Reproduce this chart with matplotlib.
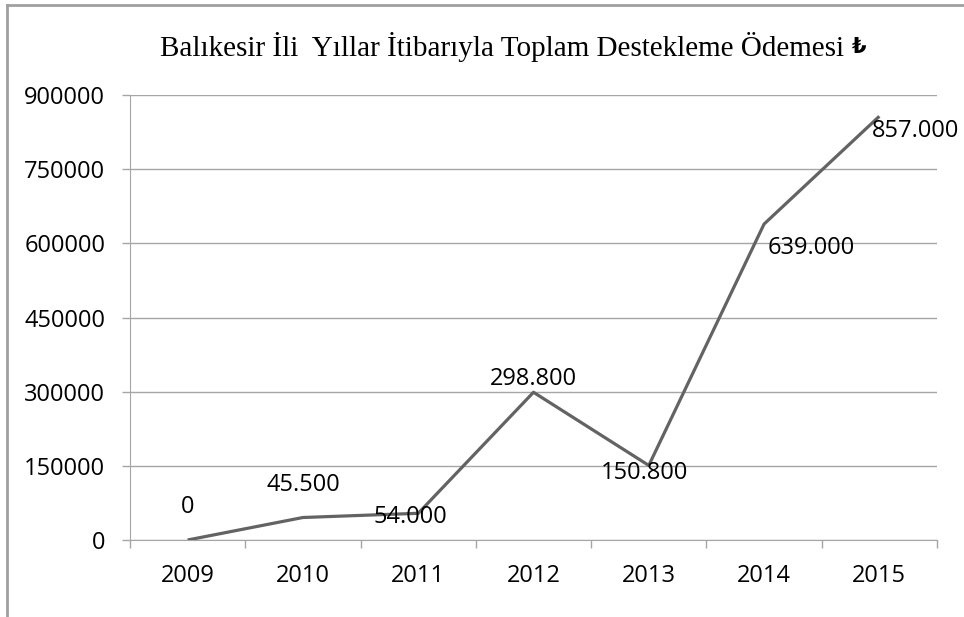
import matplotlib
matplotlib.use('Agg')
import matplotlib.pyplot as plt
from matplotlib.lines import Line2D

years = ['2009', '2010', '2011', '2012', '2013', '2014', '2015']
payments = [0, 45500, 54000, 298800, 150800, 639000, 857000]
value_labels = ['0', '45.500', '54.000', '298.800', '150.800', '639.000', '857.000']
yticks = [0, 150000, 300000, 450000, 600000, 750000, 900000]
title = 'Balıkesir İli  Yıllar İtibarıyla Toplam Destekleme Ödemesi'
currency = '₺'

# label offsets in pixels (dx, dy) and horizontal alignment
label_pos = [(0, 33, 'center'), (0, 33, 'center'), (-8, -4, 'center'),
             (0, 13, 'center'), (-4, -8, 'center'), (4, -24, 'left'),
             (-7, -15, 'left')]

plt.rcParams['font.family'] = ['Open Sans', 'DejaVu Sans']
grid_c = '#a6a6a6'
line_c = '#636363'
fs = 17

W, H = 964, 617
fig = plt.figure(figsize=(W / 100, H / 100), dpi=100)
ax = fig.add_axes([130 / W, 1 - 540 / H, 807 / W, 445 / H])

x = list(range(len(years)))
ax.plot(x, payments, color=line_c, linewidth=2.3, solid_capstyle='butt', zorder=3)

px = 72 / 100
for i, (lab, (dx, dy, ha)) in enumerate(zip(value_labels, label_pos)):
    ax.annotate(lab, (x[i], payments[i]), xytext=(dx * px, dy * px),
                textcoords='offset points', ha=ha, va='center', fontsize=fs,
                color='black', zorder=4)

ax.set_xlim(-0.5, len(years) - 0.5)
ax.set_ylim(0, 900000)
ax.set_yticks(yticks)
ax.set_yticklabels([str(v) for v in yticks])
ax.set_xticks(x)
ax.set_xticklabels(years)
ax.tick_params(axis='both', labelsize=fs, colors='black')
ax.tick_params(axis='y', length=5.8, width=1, color=grid_c, pad=12)
ax.tick_params(axis='x', length=0, pad=17)
# category boundaries get the ticks, like the spreadsheet
ax.set_xticks([i - 0.5 for i in range(len(years) + 1)], minor=True)
ax.tick_params(axis='x', which='minor', length=5.8, width=1, color=grid_c)

ax.grid(axis='y', color=grid_c, linewidth=1)
ax.set_axisbelow(True)
for side in ['top', 'right']:
    ax.spines[side].set_visible(False)
ax.spines['left'].set_color(grid_c)
ax.spines['bottom'].set_color(grid_c)

t = fig.text(160 / W, 1 - 47 / H, title, ha='left', va='center', fontsize=21,
             family=['Liberation Serif', 'DejaVu Serif'])
r = fig.canvas.get_renderer()
bb = t.get_window_extent(r)
fig.text((bb.x1 + 8) / W, 1 - 47 / H, currency, ha='left', va='center',
         fontsize=15, fontweight='bold', family=['DejaVu Sans'])

# outer chart frame (only top and left edges are visible)
fig.add_artist(Line2D([7 / W, 7 / W], [0, 1 - 5 / H], color='#a0a0a0', linewidth=2))
fig.add_artist(Line2D([7 / W, 1], [1 - 5 / H, 1 - 5 / H], color='#a0a0a0', linewidth=2))

fig.savefig('out.png', dpi=100)
